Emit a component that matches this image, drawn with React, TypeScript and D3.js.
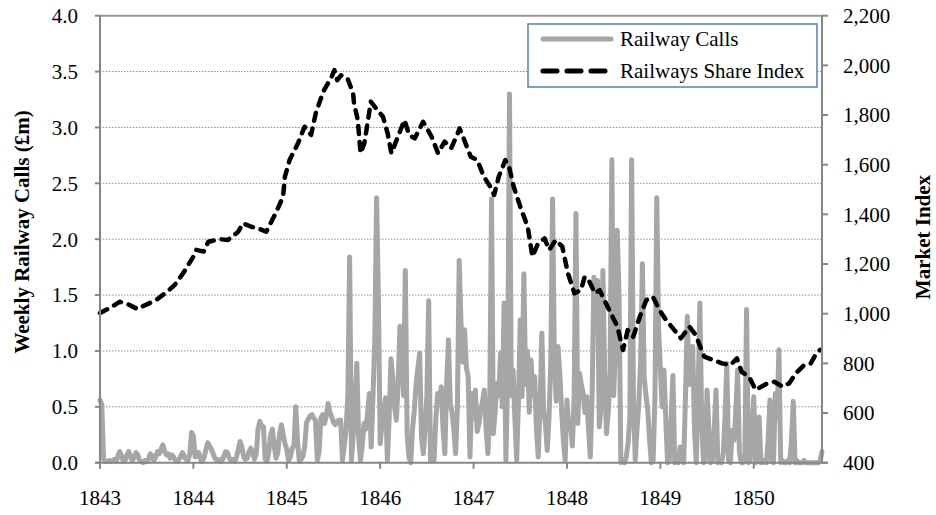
import React, { useEffect, useRef } from 'react';
import * as d3 from 'd3';

// weekly railway calls (£m), one value per week from the first week of 1843
const railwayCalls = [
  0.56, 0.52, 0.03, 0.01, 0.01, 0.02, 0.01, 0.02, 0.03, 0.01, 0.06, 0.10, 0.06, 0.01, 0.02, 0.07, 0.10, 0.05, 0.02, 0.05,
  0.09, 0.07, 0.02, 0.01, 0.00, 0.02, 0.01, 0.03, 0.08, 0.06, 0.02, 0.05, 0.10, 0.08, 0.12, 0.16, 0.10, 0.07, 0.08, 0.04,
  0.07, 0.05, 0.02, 0.01, 0.03, 0.06, 0.09, 0.05, 0.03, 0.02, 0.08, 0.27, 0.24, 0.05, 0.06, 0.09, 0.03, 0.01, 0.05, 0.12,
  0.18, 0.15, 0.12, 0.08, 0.04, 0.02, 0.03, 0.01, 0.02, 0.06, 0.10, 0.09, 0.04, 0.02, 0.03, 0.01, 0.05, 0.12, 0.19, 0.14,
  0.05, 0.03, 0.04, 0.10, 0.13, 0.09, 0.03, 0.08, 0.30, 0.37, 0.33, 0.32, 0.03, 0.01, 0.10, 0.25, 0.30, 0.15, 0.04, 0.09,
  0.26, 0.34, 0.25, 0.17, 0.12, 0.02, 0.05, 0.13, 0.15, 0.50, 0.18, 0.01, 0.03, 0.06, 0.15, 0.36, 0.39, 0.42, 0.43, 0.40,
  0.38, 0.02, 0.10, 0.40, 0.43, 0.35, 0.42, 0.53, 0.45, 0.41, 0.36, 0.34, 0.37, 0.38, 0.38, 0.02, 0.15, 0.30, 0.60, 1.84,
  0.02, 0.25, 0.55, 0.89, 0.23, 0.02, 0.15, 0.35, 0.30, 0.45, 0.62, 0.14, 0.60, 1.10, 2.37, 1.49, 0.17, 0.35, 0.45, 0.58,
  0.02, 0.40, 0.93, 0.77, 0.50, 0.38, 0.70, 1.22, 1.19, 0.60, 1.72, 0.26, 0.05, 0.00, 0.30, 0.47, 0.70, 0.85, 0.98, 0.23,
  0.08, 0.30, 0.60, 1.45, 0.02, 0.15, 0.02, 0.40, 0.62, 0.55, 0.68, 0.30, 0.08, 0.70, 1.10, 0.53, 0.45, 0.30, 0.08, 0.50,
  1.81, 1.25, 0.90, 1.19, 0.85, 0.77, 0.05, 0.62, 0.40, 0.65, 0.28, 0.35, 0.47, 0.55, 0.65, 0.30, 0.08, 0.50, 2.36, 0.26,
  0.45, 0.71, 0.60, 0.98, 0.50, 1.43, 0.02, 0.80, 3.30, 0.60, 0.83, 0.40, 0.02, 0.55, 1.28, 0.59, 1.69, 0.70, 1.00, 0.45,
  0.92, 0.60, 0.77, 0.30, 0.05, 0.50, 1.16, 0.47, 0.35, 0.11, 0.40, 0.90, 2.36, 0.92, 0.55, 1.04, 0.80, 0.47, 0.20, 0.02,
  0.56, 0.30, 0.38, 0.15, 0.60, 2.23, 0.35, 0.80, 0.70, 0.62, 0.45, 0.59, 0.30, 0.05, 0.60, 1.66, 1.20, 1.63, 0.32, 0.50,
  1.72, 0.80, 0.26, 0.45, 0.80, 2.71, 0.60, 1.07, 2.08, 1.49, 0.00, 0.02, 0.00, 0.05, 0.17, 0.40, 2.71, 0.60, 0.02, 0.30,
  0.53, 0.90, 1.78, 0.77, 0.60, 0.47, 0.20, 0.00, 0.02, 0.60, 2.37, 1.20, 0.83, 0.50, 0.83, 0.40, 0.00, 0.02, 0.40, 0.78,
  0.00, 0.02, 0.00, 0.14, 0.05, 0.00, 0.60, 1.31, 0.70, 0.90, 1.04, 0.30, 0.00, 0.60, 1.43, 0.40, 0.00, 0.02, 0.65, 0.30,
  0.00, 0.02, 0.30, 0.65, 0.00, 0.02, 0.00, 0.08, 0.40, 0.89, 0.02, 0.00, 0.29, 0.20, 0.45, 0.83, 0.10, 0.00, 0.00, 0.02,
  1.37, 0.00, 0.02, 0.30, 0.59, 0.00, 0.02, 0.41, 0.00, 0.00, 0.02, 0.00, 0.20, 0.56, 0.02, 0.00, 0.62, 0.40, 1.01, 0.00,
  0.02, 0.00, 0.00, 0.02, 0.00, 0.20, 0.55, 0.00, 0.02, 0.00, 0.00, 0.00, 0.02, 0.00, 0.00, 0.00, 0.00, 0.00, 0.00, 0.00,
  0.00, 0.02, 0.10,
];

// railways share index readings (date as fraction of year, index value)
const indexDates = [
  1843.00, 1843.10, 1843.21, 1843.28, 1843.40, 1843.47, 1843.60, 1843.72, 1843.80, 1843.89,
  1844.00, 1844.03, 1844.11, 1844.16, 1844.28, 1844.37, 1844.48, 1844.53, 1844.62, 1844.69,
  1844.78, 1844.88, 1844.96, 1844.98, 1845.03, 1845.12, 1845.19, 1845.26, 1845.31, 1845.39,
  1845.48, 1845.51, 1845.54, 1845.58, 1845.65, 1845.71, 1845.72, 1845.76, 1845.79, 1845.83,
  1845.87, 1845.90, 1845.97, 1846.03, 1846.08, 1846.12, 1846.19, 1846.26, 1846.31, 1846.37,
  1846.46, 1846.55, 1846.62, 1846.69, 1846.76, 1846.83, 1846.85, 1846.90, 1846.97, 1847.04,
  1847.11, 1847.18, 1847.22, 1847.27, 1847.34, 1847.38, 1847.43, 1847.50, 1847.58, 1847.63,
  1847.69, 1847.76, 1847.81, 1847.88, 1847.95, 1848.01, 1848.08, 1848.15, 1848.19, 1848.24,
  1848.30, 1848.35, 1848.40, 1848.47, 1848.54, 1848.60, 1848.65, 1848.71, 1848.78, 1848.85,
  1848.92, 1848.99, 1849.06, 1849.15, 1849.22, 1849.31, 1849.38, 1849.44, 1849.47, 1849.57,
  1849.66, 1849.75, 1849.82, 1849.87, 1849.95, 1850.02, 1850.08, 1850.15, 1850.22, 1850.31,
  1850.38, 1850.45, 1850.54, 1850.61, 1850.67, 1850.71,
];
const indexValues = [
  1003, 1022, 1048, 1042, 1019, 1032, 1055, 1089, 1116, 1163,
  1230, 1257, 1250, 1290, 1300, 1297, 1330, 1364, 1350, 1344,
  1330, 1404, 1471, 1552, 1619, 1686, 1753, 1720, 1807, 1894,
  1954, 1981, 1940, 1960, 1948, 1888, 1847, 1780, 1646, 1686,
  1780, 1854, 1820, 1793, 1726, 1646, 1713, 1780, 1720, 1706,
  1773, 1713, 1646, 1693, 1666, 1726, 1746, 1700, 1632, 1619,
  1552, 1511, 1478, 1552, 1619, 1592, 1511, 1431, 1350, 1230,
  1283, 1303, 1257, 1297, 1270, 1163, 1082, 1095, 1149, 1129,
  1082, 1095, 1055, 1002, 948, 854, 934, 907, 988, 1055,
  1068, 1015, 975, 934, 901, 948, 914, 854, 827, 813,
  800, 793, 820, 766, 746, 693, 706, 720, 726, 706,
  720, 760, 793, 800, 840, 854,
];

const yearTicks = [1843, 1844, 1845, 1846, 1847, 1848, 1849, 1850];
const leftTicks = [0, 0.5, 1.0, 1.5, 2.0, 2.5, 3.0, 3.5, 4.0];
const rightTicks = [400, 600, 800, 1000, 1200, 1400, 1600, 1800, 2000, 2200];
const seriesNames = ['Railway Calls', 'Railways Share Index'];

const width = 936;
const height = 515;
const font = '"Liberation Serif", "Times New Roman", serif';

export default function App() {
  const ref = useRef<SVGSVGElement>(null);

  useEffect(() => {
    const svg = d3.select(ref.current);
    svg.selectAll('*').remove();

    const left = 100, right = 822, top = 15.7, bottom = 462.7;

    const x = d3.scaleLinear()
      .domain([1843, 1843 + (railwayCalls.length - 1) / 52])
      .range([left, right]);
    const yL = d3.scaleLinear().domain([0, 4]).range([bottom, top]);
    const yR = d3.scaleLinear().domain([400, 2200]).range([bottom, top]);

    // gridlines
    svg.append('g')
      .selectAll('line')
      .data(leftTicks.filter(d => d > 0 && d < 4))
      .enter()
      .append('line')
      .attr('x1', left).attr('x2', right)
      .attr('y1', d => yL(d)).attr('y2', d => yL(d))
      .attr('stroke', '#8c8c8c')
      .attr('stroke-width', 1)
      .attr('stroke-dasharray', '1.5,1.5');

    svg.append('line')
      .attr('x1', left).attr('x2', right)
      .attr('y1', yL(4)).attr('y2', yL(4))
      .attr('stroke', '#9a9a9a')
      .attr('stroke-width', 2);

    // series
    const callsLine = d3.line<number>()
      .x((d, i) => x(1843 + i / 52))
      .y(d => yL(d));
    svg.append('path')
      .datum(railwayCalls)
      .attr('d', callsLine)
      .attr('fill', 'none')
      .attr('stroke', '#a6a6a6')
      .attr('stroke-width', 5)
      .attr('stroke-linejoin', 'round')
      .attr('stroke-linecap', 'round');

    const indexLine = d3.line<number>()
      .x((d, i) => x(indexDates[i]))
      .y(d => yR(d));
    svg.append('path')
      .datum(indexValues)
      .attr('d', indexLine)
      .attr('fill', 'none')
      .attr('stroke', '#000')
      .attr('stroke-width', 4.5)
      .attr('stroke-linejoin', 'round')
      .attr('stroke-linecap', 'round')
      .attr('stroke-dasharray', '8,8');

    // axes
    const axisColor = '#868686';
    svg.append('line').attr('x1', left).attr('x2', left).attr('y1', top).attr('y2', bottom)
      .attr('stroke', axisColor).attr('stroke-width', 2);
    svg.append('line').attr('x1', right).attr('x2', right).attr('y1', top).attr('y2', bottom)
      .attr('stroke', axisColor).attr('stroke-width', 2);
    svg.append('line').attr('x1', left - 5).attr('x2', right + 6).attr('y1', bottom).attr('y2', bottom)
      .attr('stroke', axisColor).attr('stroke-width', 2);

    const xg = svg.append('g');
    xg.selectAll('line').data(yearTicks).enter().append('line')
      .attr('x1', d => x(d)).attr('x2', d => x(d))
      .attr('y1', bottom).attr('y2', bottom + 6)
      .attr('stroke', axisColor).attr('stroke-width', 2);
    xg.selectAll('text').data(yearTicks).enter().append('text')
      .attr('x', d => x(d)).attr('y', 505)
      .attr('text-anchor', 'middle')
      .attr('font-family', font).attr('font-size', 21)
      .text(d => d);

    const lg = svg.append('g');
    lg.selectAll('line').data(leftTicks).enter().append('line')
      .attr('x1', left - 5).attr('x2', left)
      .attr('y1', d => yL(d)).attr('y2', d => yL(d))
      .attr('stroke', axisColor).attr('stroke-width', 2);
    lg.selectAll('text').data(leftTicks).enter().append('text')
      .attr('x', 78).attr('y', d => yL(d))
      .attr('dy', '0.35em')
      .attr('text-anchor', 'end')
      .attr('font-family', font).attr('font-size', 21)
      .text(d => d3.format('.1f')(d));

    const rg = svg.append('g');
    rg.selectAll('line').data(rightTicks).enter().append('line')
      .attr('x1', right).attr('x2', right + 6)
      .attr('y1', d => yR(d)).attr('y2', d => yR(d))
      .attr('stroke', axisColor).attr('stroke-width', 2);
    rg.selectAll('text').data(rightTicks).enter().append('text')
      .attr('x', 843).attr('y', d => yR(d))
      .attr('dy', '0.35em')
      .attr('font-family', font).attr('font-size', 21)
      .text(d => d3.format(',')(d));

    // axis titles
    svg.append('text')
      .attr('transform', 'translate(22,232) rotate(-90)')
      .attr('dy', '0.35em')
      .attr('text-anchor', 'middle')
      .attr('font-family', font).attr('font-size', 21).attr('font-weight', 'bold')
      .text('Weekly Railway Calls (£m)');
    svg.append('text')
      .attr('transform', 'translate(923,237) rotate(-90)')
      .attr('dy', '0.35em')
      .attr('text-anchor', 'middle')
      .attr('font-family', font).attr('font-size', 21).attr('font-weight', 'bold')
      .text('Market Index');

    // legend
    const legend = svg.append('g');
    legend.append('rect')
      .attr('x', 528).attr('y', 24).attr('width', 289).attr('height', 63)
      .attr('fill', '#fff')
      .attr('stroke', '#4f81bd').attr('stroke-width', 1.5);
    legend.append('line')
      .attr('x1', 543).attr('x2', 611).attr('y1', 39).attr('y2', 39)
      .attr('stroke', '#a6a6a6').attr('stroke-width', 5).attr('stroke-linecap', 'round');
    legend.append('line')
      .attr('x1', 543).attr('x2', 611).attr('y1', 71).attr('y2', 71)
      .attr('stroke', '#000').attr('stroke-width', 5).attr('stroke-linecap', 'round')
      .attr('stroke-dasharray', '14,10');
    legend.selectAll('text').data(seriesNames).enter().append('text')
      .attr('x', 620).attr('y', (d, i) => 39 + i * 32)
      .attr('dy', '0.35em')
      .attr('font-family', font).attr('font-size', 21)
      .text(d => d);
  }, []);

  return (
    <svg ref={ref} width={width} height={height}
      style={{ position: 'absolute', left: 0, top: 0, background: '#fff' }} />
  );
}
